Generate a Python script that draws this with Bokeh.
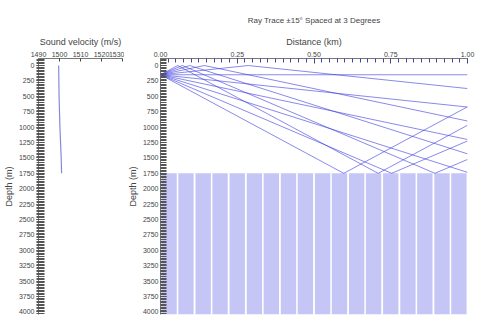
from bokeh.plotting import figure
from bokeh.layouts import row
from bokeh.models import Range1d, FixedTicker, NumeralTickFormatter
from bokeh.embed import file_html
from bokeh.resources import INLINE

# ---- data ----
title_text = "Ray Trace \u00b115\u00b0 Spaced at 3 Degrees"
depth_ticks = [0, 250, 500, 750, 1000, 1250, 1500, 1750, 2000, 2250, 2500, 2750, 3000, 3250, 3500, 3750, 4000]
speed_ticks = [1490, 1500, 1510, 1520, 1530]
range_ticks = [0, 0.25, 0.5, 0.75, 1.0]

profile_depth = [0, 250, 500, 750, 1000, 1250, 1500, 1750]
profile_speed = [1499.6, 1499.7, 1499.8, 1500.0, 1500.2, 1500.5, 1500.8, 1501.0]

ray_x = [
    [0, 1], [0, 1], [0, 1], [0, 1],
    [0, 0.753, 1], [0, 0.597, 1],
    [0, 0.286, 1], [0, 0.143, 1], [0, 0.095, 1],
    [0, 0.071, 0.894, 1], [0, 0.056, 0.709, 1],
]
ray_depth = [
    [150, 150], [150, 674], [150, 1201], [150, 1734],
    [150, 1750, 1225], [150, 1750, 670],
    [150, 0, 374], [150, 0, 901], [150, 0, 1434],
    [150, 0, 1750, 1525], [150, 0, 1750, 970],
]

seabed_x = [0.028, 0.083, 0.139, 0.194, 0.25, 0.306, 0.361, 0.417, 0.472,
            0.528, 0.583, 0.639, 0.694, 0.75, 0.806, 0.861, 0.917, 0.972]
seabed_depth = [1750] * 18

FONT = "Liberation Sans"
TXT = "#444444"
H = 316
TOP = 58
YR = (4042, -114)


def style_axes(p):
    for ax in p.axis:
        ax.major_label_text_font = FONT
        ax.major_label_text_font_size = "7px"
        ax.major_label_text_color = TXT
        ax.axis_label_text_font = FONT
        ax.axis_label_text_font_size = "9px"
        ax.axis_label_text_font_style = "normal"
        ax.axis_label_text_color = TXT
        ax.axis_line_color = "#777777"
        ax.major_tick_line_color = "#444444"
        ax.minor_tick_line_color = "#555555"
        ax.major_label_standoff = 2
        ax.axis_label_standoff = 2


minor_depth = list(range(-100, 4050, 25))

# ---- left panel: sound speed profile ----
p1 = figure(width=124, height=H, output_backend="svg", toolbar_location=None,
            x_axis_location="above", y_range=Range1d(*YR),
            x_range=Range1d(1490, 1530), min_border_left=34, min_border_right=2,
            min_border_top=TOP, min_border_bottom=2)
p1.line(profile_speed, profile_depth, line_color="#8888d8", line_width=1.2)
p1.xaxis.axis_label = "Sound velocity (m/s)"
p1.yaxis.axis_label = "Depth (m)"
p1.xaxis.ticker = FixedTicker(ticks=speed_ticks)
p1.yaxis.ticker = FixedTicker(ticks=depth_ticks, minor_ticks=minor_depth)
p1.yaxis.major_tick_in = 6
p1.yaxis.major_tick_out = 2
p1.yaxis.minor_tick_in = 6
p1.yaxis.minor_tick_out = 2
p1.xaxis.major_tick_in = 3
p1.xaxis.major_tick_out = 0
p1.xaxis.minor_tick_in = 0
p1.xaxis.minor_tick_out = 0
p1.grid.visible = False
p1.outline_line_color = None
style_axes(p1)

# ---- right panel: ray paths ----
p2 = figure(width=351, height=H, output_backend="svg", toolbar_location=None,
            x_axis_location="above", y_range=Range1d(*YR),
            x_range=Range1d(0, 1), min_border_left=33, min_border_right=8,
            min_border_top=TOP, min_border_bottom=2, title=title_text)
p2.title.align = "center"
p2.title.text_font = FONT
p2.title.text_font_size = "8px"
p2.title.text_font_style = "normal"
p2.title.text_color = TXT
p2.title.standoff = 18
p2.vbar(x=seabed_x, top=seabed_depth, bottom=4300, width=0.9 / 18,
        fill_color="#c6c6f6", line_color=None)
p2.multi_line(ray_x, ray_depth, line_color="#3a3ae0", line_width=1, line_alpha=0.6)
p2.xaxis.axis_label = "Distance (km)"
p2.yaxis.axis_label = "Depth (m)"
p2.xaxis.ticker = FixedTicker(ticks=range_ticks, minor_ticks=[i / 40 for i in range(41)])
p2.xaxis.formatter = NumeralTickFormatter(format="0.00")
p2.xaxis.major_tick_in = 5
p2.xaxis.major_tick_out = 0
p2.xaxis.minor_tick_in = 4
p2.xaxis.minor_tick_out = 0
p2.yaxis.ticker = FixedTicker(ticks=depth_ticks, minor_ticks=minor_depth)
p2.yaxis.major_tick_in = 6
p2.yaxis.major_tick_out = 0
p2.yaxis.minor_tick_in = 6
p2.yaxis.minor_tick_out = 0
p2.grid.visible = False
p2.outline_line_color = None
style_axes(p2)
p2.xaxis.minor_tick_line_color = "#4444aa"

layout = row(p1, p2, spacing=0)
open("out.html", "w").write(file_html(layout, INLINE))
